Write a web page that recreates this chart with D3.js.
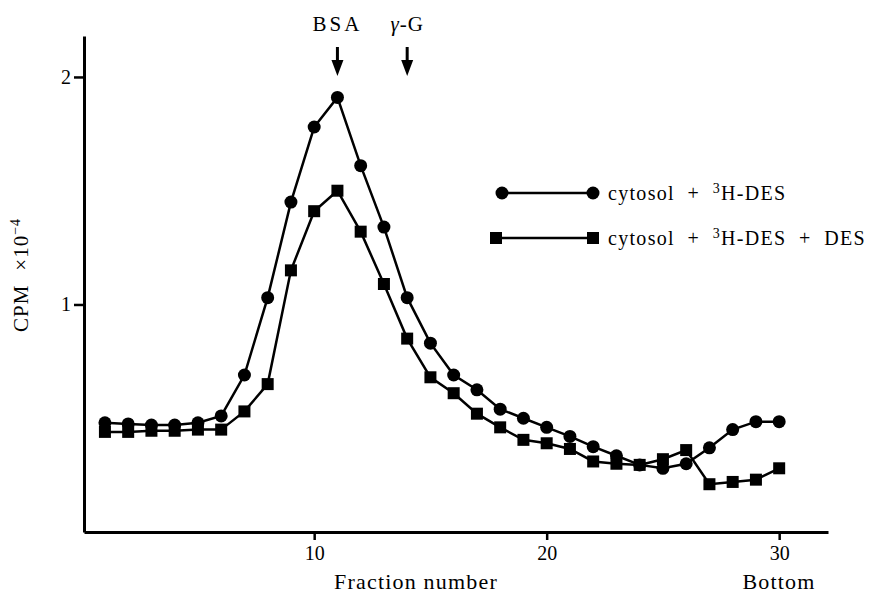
<!DOCTYPE html>
<html>
<head>
<meta charset="utf-8">
<script src="https://cdn.jsdelivr.net/npm/d3@7"></script>
<style>
  body { margin: 0; background: #fff; }
  svg text { font-family: "Liberation Serif", "DejaVu Serif", serif; fill: #000; }
</style>
</head>
<body>
<div id="chart"></div>
<script>
// fraction numbers 1..30
let fractions = [1,2,3,4,5,6,7,8,9,10,11,12,13,14,15,16,17,18,19,20,21,22,23,24,25,26,27,28,29,30];
// CPM x10^-4
let desOnly = [0.48,0.475,0.47,0.47,0.48,0.51,0.69,1.03,1.45,1.78,1.91,1.61,1.34,1.03,0.83,0.69,0.625,0.54,0.50,0.46,0.42,0.375,0.335,0.295,0.28,0.30,0.37,0.45,0.485,0.485];
let desPlus = [0.44,0.44,0.445,0.445,0.45,0.45,0.53,0.65,1.15,1.41,1.50,1.32,1.09,0.85,0.68,0.61,0.52,0.46,0.405,0.39,0.365,0.31,0.30,0.295,0.32,0.36,0.21,0.22,0.23,0.28];
let xTicks = [10, 20, 30];
let yTicks = [1, 2];
let markers = [
  { name: "BSA", at: 11 },
  { name: "γ-G", at: 14 }
];

let width = 872, height = 596;

let svg = d3.select("#chart").append("svg")
    .attr("width", width)
    .attr("height", height);

let x = d3.scaleLinear().domain([0.1, 32.1]).range([84, 828]);
let y = d3.scaleLinear().domain([0, 2.18]).range([532, 36]);

// axes
let xAxis = svg.append("g")
    .attr("transform", `translate(0,${y(0)})`)
    .call(d3.axisBottom(x).tickValues(xTicks).tickFormat(d3.format("d"))
      .tickSizeInner(8).tickSizeOuter(0).tickPadding(6));

let yAxis = svg.append("g")
    .attr("transform", `translate(${x(0.1)},0)`)
    .call(d3.axisLeft(y).tickValues(yTicks).tickFormat(d3.format("d"))
      .tickSizeInner(10).tickSizeOuter(0).tickPadding(3));

[xAxis, yAxis].forEach(a => {
  a.select(".domain").attr("stroke", "#000").attr("stroke-width", 3);
  a.selectAll(".tick line").attr("stroke", "#000").attr("stroke-width", 2.5);
  a.selectAll(".tick text")
      .style("font-family", "Liberation Serif, serif")
      .attr("font-size", 20)
      .attr("fill", "#000");
});

// axis titles
svg.append("text")
    .attr("x", 416).attr("y", 589)
    .attr("text-anchor", "middle")
    .attr("font-size", 22)
    .attr("letter-spacing", 1.2)
    .text("Fraction number");

svg.append("text")
    .attr("x", 779).attr("y", 589)
    .attr("text-anchor", "middle")
    .attr("font-size", 22)
    .attr("letter-spacing", 1.2)
    .text("Bottom");

let yTitle = svg.append("text")
    .attr("transform", "translate(28,275) rotate(-90)")
    .attr("text-anchor", "middle")
    .attr("font-size", 21)
    .attr("letter-spacing", 1);
yTitle.append("tspan").text("CPM");
yTitle.append("tspan").attr("dx", 14).text("×10");
yTitle.append("tspan").attr("dy", -8).attr("font-size", 14).text("−4");

// markers (arrows)
markers.forEach(m => {
  let mx = x(m.at);
  svg.append("line")
      .attr("x1", mx).attr("x2", mx)
      .attr("y1", 47).attr("y2", 64)
      .attr("stroke", "#000").attr("stroke-width", 3);
  svg.append("path")
      .attr("d", `M${mx - 6},60 L${mx + 6},60 L${mx},76 Z`)
      .attr("fill", "#000");
  let t = svg.append("text")
      .attr("x", mx).attr("y", 31)
      .attr("text-anchor", "middle")
      .attr("font-size", 21)
      .attr("letter-spacing", 3);
  if (m.name.startsWith("γ")) {
    t.attr("letter-spacing", 1);
    t.append("tspan").attr("font-style", "italic").text("γ");
    t.append("tspan").text(m.name.slice(1));
  } else {
    t.text(m.name);
  }
});

let line = d3.line()
    .x((d, i) => x(fractions[i]))
    .y(d => y(d));

// series: squares (DES competition)
svg.append("path")
    .datum(desPlus)
    .attr("d", line)
    .attr("fill", "none")
    .attr("stroke", "#000")
    .attr("stroke-width", 2.5);

svg.append("g").selectAll("rect")
    .data(desPlus)
    .join("rect")
    .attr("x", (d, i) => x(fractions[i]) - 6)
    .attr("y", d => y(d) - 6)
    .attr("width", 12).attr("height", 12)
    .attr("fill", "#000");

// series: circles
svg.append("path")
    .datum(desOnly)
    .attr("d", line)
    .attr("fill", "none")
    .attr("stroke", "#000")
    .attr("stroke-width", 2.5);

svg.append("g").selectAll("circle")
    .data(desOnly)
    .join("circle")
    .attr("cx", (d, i) => x(fractions[i]))
    .attr("cy", d => y(d))
    .attr("r", 6.5)
    .attr("fill", "#000");

// legend
let legend = svg.append("g");
let legendRows = [
  { y: 193, shape: "circle", x1: 502, parts: ["cytosol  +  ", "3", "H-DES"] },
  { y: 238, shape: "rect", x1: 496, parts: ["cytosol  +  ", "3", "H-DES  +  DES"] }
];
legendRows.forEach(r => {
  legend.append("line")
      .attr("x1", r.x1).attr("x2", 593)
      .attr("y1", r.y).attr("y2", r.y)
      .attr("stroke", "#000").attr("stroke-width", 2.5);
  [r.x1, 593].forEach(px => {
    if (r.shape === "circle") {
      legend.append("circle").attr("cx", px).attr("cy", r.y).attr("r", 6.5).attr("fill", "#000");
    } else {
      legend.append("rect").attr("x", px - 6).attr("y", r.y - 6).attr("width", 12).attr("height", 12).attr("fill", "#000");
    }
  });
  let t = legend.append("text")
      .attr("x", 608).attr("y", r.y + 7)
      .attr("font-size", 20)
      .attr("letter-spacing", 1.3)
      .attr("xml:space", "preserve")
      .style("white-space", "pre");
  t.append("tspan").text(r.parts[0]);
  t.append("tspan").attr("dy", -7).attr("font-size", 14).text(r.parts[1]);
  t.append("tspan").attr("dy", 7).text(r.parts[2]);
});
</script>
</body>
</html>
